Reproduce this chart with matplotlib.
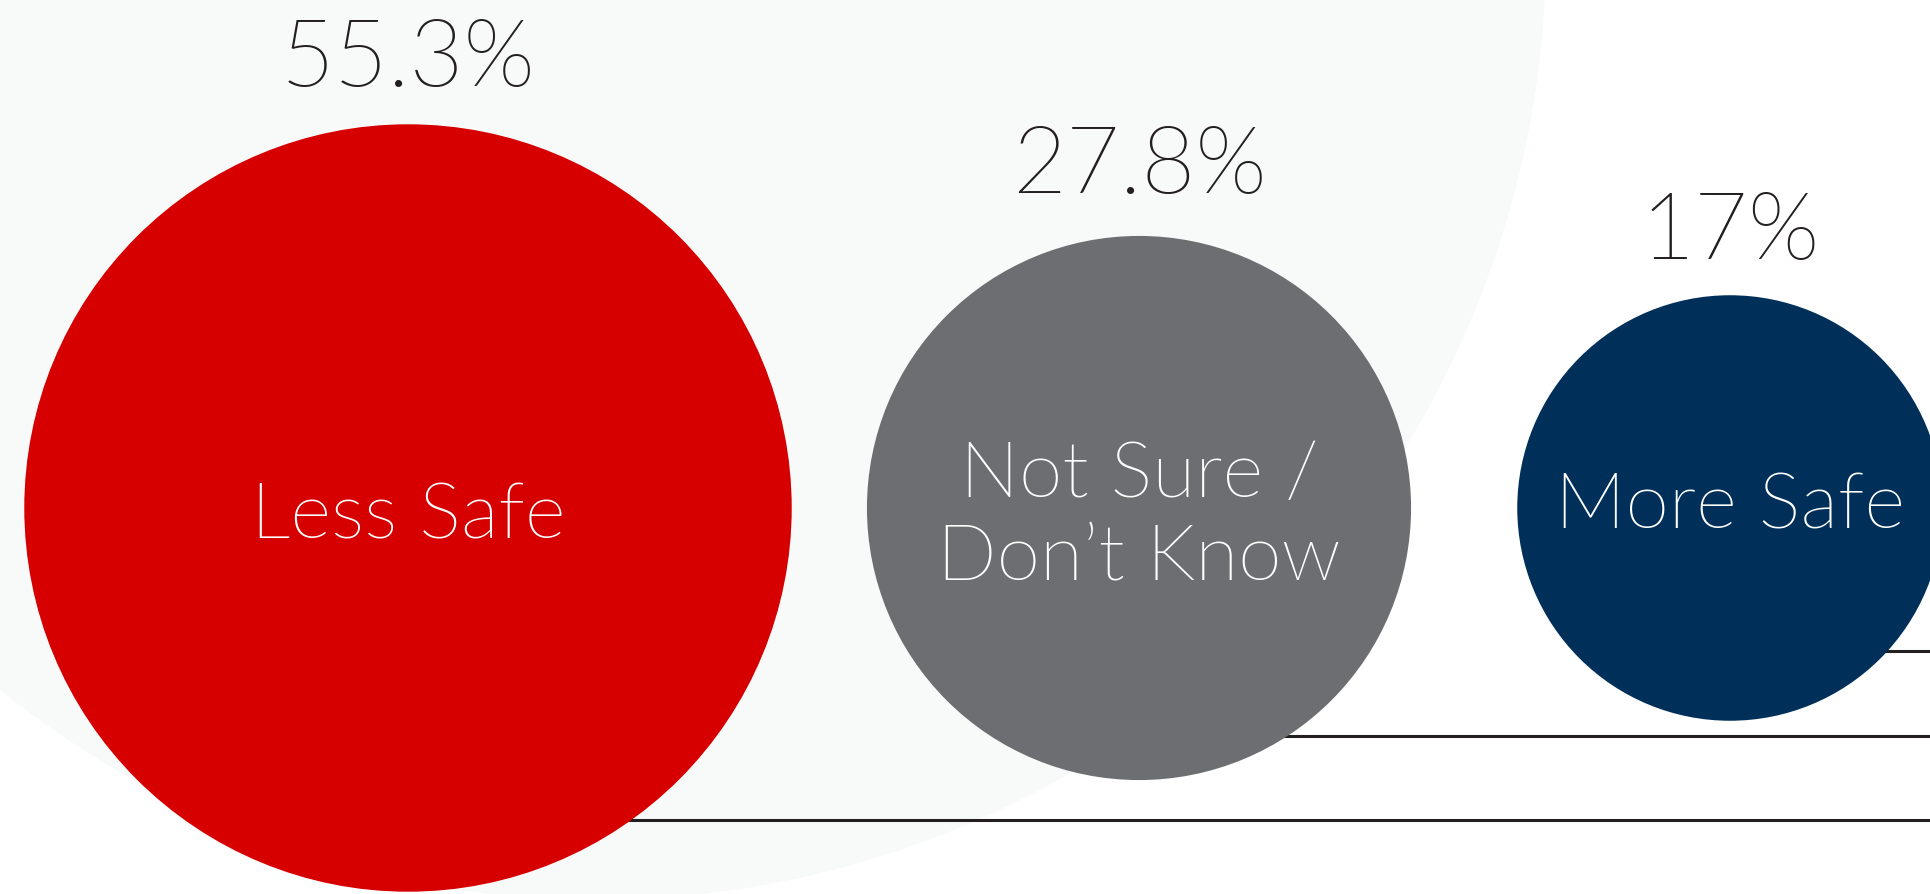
import matplotlib.pyplot as plt
from matplotlib import font_manager
from matplotlib.patches import Circle

# survey shares (%)
labels = ['Less Safe', 'Not Sure /\nDon\u2019t Know', 'More Safe']
values = [55.3, 27.8, 17.0]
colors = ['#D60000', '#6D6E71', '#002F5A']

# layout in pixels (y grows downwards)
W, H = 1930, 894
centers_x = [408, 1139, 1730]
center_y = 508
scale = 51.6            # radius = scale * sqrt(value), so area follows the value
leader_y = [820, 736, 651]
label_dy = [9, 9, -1]   # nudge of the inner label from the bubble centre
pct_gap = [38, 43, 36]  # space between percentage baseline and bubble top

# prefer the Lato Light cut if it is installed
light = [f.fname for f in font_manager.fontManager.ttflist
         if f.name == 'Lato' and 'light' in f.fname.lower() and 'italic' not in f.fname.lower()]
if light:
    font = dict(fontproperties=font_manager.FontProperties(fname=light[0]))
else:
    font = dict(family=['Lato', 'DejaVu Sans'], fontweight='normal')

fig = plt.figure(figsize=(W / 100, H / 100), dpi=100)
fig.patch.set_facecolor('white')
ax = fig.add_axes([0, 0, 1, 1])
ax.set_xlim(0, W)
ax.set_ylim(H, 0)
ax.set_aspect('equal')
ax.axis('off')

# pale backdrop disc
ax.add_patch(Circle((596, -50), 950, facecolor='#F8F9F9', edgecolor='none', zorder=0))

for i, (lab, v, c) in enumerate(zip(labels, values, colors)):
    cx, ly = centers_x[i], leader_y[i]
    r = scale * v ** 0.5
    # leader line running out to the right edge, tucked behind the bubble
    ax.plot([cx, W], [ly, ly], color='#231F20', lw=2.2, solid_capstyle='butt', zorder=1)
    ax.add_patch(Circle((cx, center_y), r, facecolor=c, edgecolor='none', zorder=2))
    t = ax.text(cx, center_y + label_dy[i], lab, ha='center', va='center', color='white',
                linespacing=1.2, zorder=3, **font)
    t.set_fontsize(56.5)
    p = ax.text(cx, center_y - r - pct_gap[i], f'{v:g}%', ha='center', va='baseline',
                color='#231F20', zorder=3, **font)
    p.set_fontsize(67)

fig.savefig('out.png', dpi=100, facecolor='white')
